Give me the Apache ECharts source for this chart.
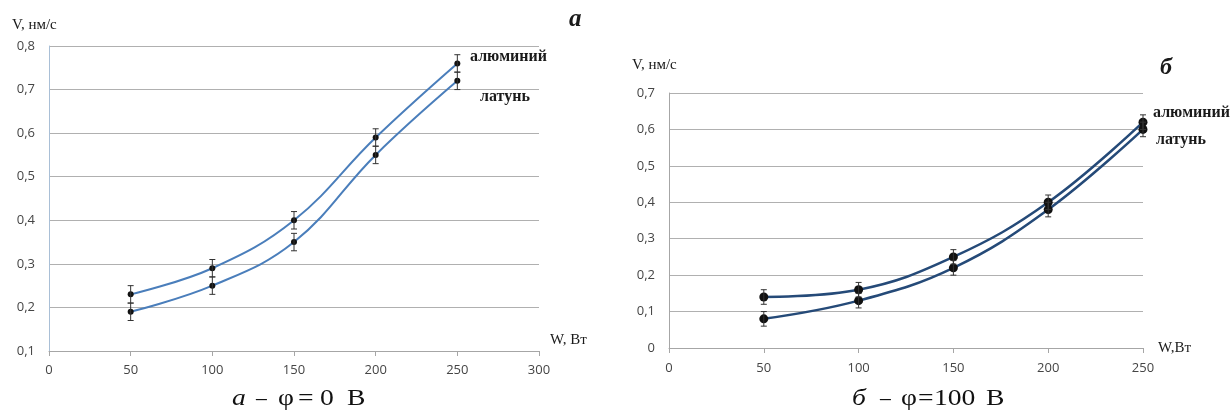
<!DOCTYPE html>
<html>
<head>
<meta charset="utf-8">
<script src="https://cdn.jsdelivr.net/npm/echarts@6/dist/echarts.min.js"></script>
<style>
  html, body { margin: 0; padding: 0; background: #fff; }
  #chart { width: 1231px; height: 412px; }
</style>
</head>
<body>
<div id="chart"></div>
<script>
// Power, W (x values shared by both panels)
const powerW = [50, 100, 150, 200, 250];

// Panel а: φ = 0 В
const aluminumA = [0.23, 0.29, 0.40, 0.59, 0.76];
const brassA    = [0.19, 0.25, 0.35, 0.55, 0.72];
const errorA    = [0.02, 0.02, 0.02, 0.02, 0.02];

// Panel б: φ = 100 В
const aluminumB = [0.14, 0.16, 0.25, 0.40, 0.62];
const brassB    = [0.08, 0.13, 0.22, 0.38, 0.60];
const errorB    = [0.02, 0.02, 0.02, 0.02, 0.02];

const serif = '"Liberation Serif", "DejaVu Serif", serif';
const sans = '"Open Sans", "Noto Sans", sans-serif';

const pairs = (xs, ys) => xs.map((x, i) => [x, ys[i]]);
const bars = (xs, ys, es) => xs.map((x, i) => [x, ys[i] - es[i], ys[i] + es[i]]);
const comma = v => v.toFixed(1).replace('.', ',');

function errorBar(params, api) {
  const x = api.value(0);
  const lo = api.coord([x, api.value(1)]);
  const hi = api.coord([x, api.value(2)]);
  const c = 3;
  const st = { stroke: '#333', lineWidth: 1 };
  return {
    type: 'group',
    children: [
      { type: 'line', shape: { x1: lo[0], y1: lo[1], x2: hi[0], y2: hi[1] }, style: st },
      { type: 'line', shape: { x1: lo[0] - c, y1: lo[1], x2: lo[0] + c, y2: lo[1] }, style: st },
      { type: 'line', shape: { x1: hi[0] - c, y1: hi[1], x2: hi[0] + c, y2: hi[1] }, style: st }
    ]
  };
}

function curve(idx, data, color, width, size) {
  return {
    type: 'line', xAxisIndex: idx, yAxisIndex: idx, data: data,
    smooth: 0.4, symbol: 'circle', symbolSize: size,
    lineStyle: { color: color, width: width },
    itemStyle: { color: '#111' }, z: 3, silent: true
  };
}

function errSeries(idx, data) {
  return {
    type: 'custom', xAxisIndex: idx, yAxisIndex: idx, data: data,
    encode: { x: 0, y: [1, 2] }, renderItem: errorBar, z: 4, silent: true
  };
}

// plain text placed by its vertical centre
function label(text, x, cy, font) {
  return {
    type: 'text', x: x, y: cy, silent: true,
    style: { text: text, font: font, fill: '#1a1a1a', verticalAlign: 'middle' }
  };
}

// caption glyphs are set in a slightly widened serif face
function capPiece(text, x, italic, sx) {
  return {
    type: 'text', x: x, y: 399, scaleX: sx || 1.15, silent: true,
    style: {
      text: text, font: (italic ? 'italic ' : '') + '24px ' + serif,
      fill: '#111', verticalAlign: 'middle'
    }
  };
}

const axisLabel = { color: '#454545', fontFamily: sans, fontSize: 13 };

const chart = echarts.init(document.getElementById('chart'), null, { renderer: 'canvas' });
chart.setOption({
  animation: false,
  backgroundColor: '#fff',
  grid: [
    { left: 49, top: 46, width: 490, height: 305 },
    { left: 669, top: 93, width: 474, height: 255 }
  ],
  xAxis: [
    {
      type: 'value', gridIndex: 0, min: 0, max: 300, interval: 50,
      axisLine: { show: true, lineStyle: { color: '#a6a6a6' } },
      axisTick: { show: true, length: 5, lineStyle: { color: '#a6a6a6' } },
      axisLabel: Object.assign({ margin: 13 }, axisLabel),
      splitLine: { show: false }
    },
    {
      type: 'value', gridIndex: 1, min: 0, max: 250, interval: 50,
      axisLine: { show: true, lineStyle: { color: '#a6a6a6' } },
      axisTick: { show: true, length: 5, lineStyle: { color: '#a6a6a6' } },
      axisLabel: Object.assign({ margin: 14 }, axisLabel),
      splitLine: { show: false }
    }
  ],
  yAxis: [
    {
      type: 'value', gridIndex: 0, min: 0.1, max: 0.8, interval: 0.1,
      axisLine: { show: true, lineStyle: { color: '#a9bfd6' } },
      axisTick: { show: false },
      axisLabel: Object.assign({ margin: 14, formatter: comma }, axisLabel),
      splitLine: { show: true, lineStyle: { color: '#b0b0b0', width: 1 } }
    },
    {
      type: 'value', gridIndex: 1, min: 0, max: 0.7, interval: 0.1,
      axisLine: { show: true, lineStyle: { color: '#a6a6a6' } },
      axisTick: { show: false },
      axisLabel: Object.assign({ margin: 14, formatter: v => v === 0 ? '0' : comma(v) }, axisLabel),
      splitLine: { show: true, lineStyle: { color: '#b0b0b0', width: 1 } }
    }
  ],
  series: [
    curve(0, pairs(powerW, aluminumA), '#4a7ebb', 2, 6),
    curve(0, pairs(powerW, brassA), '#4a7ebb', 2, 6),
    errSeries(0, bars(powerW, aluminumA, errorA)),
    errSeries(0, bars(powerW, brassA, errorA)),
    curve(1, pairs(powerW, aluminumB), '#254a78', 2.5, 9),
    curve(1, pairs(powerW, brassB), '#254a78', 2.5, 9),
    errSeries(1, bars(powerW, aluminumB, errorB)),
    errSeries(1, bars(powerW, brassB, errorB))
  ],
  graphic: [
    // panel а
    label('V, нм/с', 12, 25, '15px ' + serif),
    label('а', 569, 20, 'italic bold 25px ' + serif),
    label('алюминий', 470, 57, 'bold 16px ' + serif),
    label('латунь', 480, 97, 'bold 16px ' + serif),
    label('W, Вт', 550, 340, '15px ' + serif),
    capPiece('а', 232, true),
    capPiece('–', 256, false, 0.9),
    capPiece('φ', 278, false),
    capPiece('=', 298, false),
    capPiece('0', 320, false),
    capPiece('В', 347, false),
    // panel б
    label('V, нм/с', 632, 65, '15px ' + serif),
    label('б', 1160, 68, 'italic bold 24px ' + serif),
    label('алюминий', 1153, 113, 'bold 16px ' + serif),
    label('латунь', 1156, 140, 'bold 16px ' + serif),
    label('W,Вт', 1158, 348, '15px ' + serif),
    capPiece('б', 852, true),
    capPiece('–', 880, false, 0.9),
    capPiece('φ', 901, false),
    capPiece('=', 918, false),
    capPiece('100', 934, false),
    capPiece('В', 986, false)
  ]
});
</script>
</body>
</html>
